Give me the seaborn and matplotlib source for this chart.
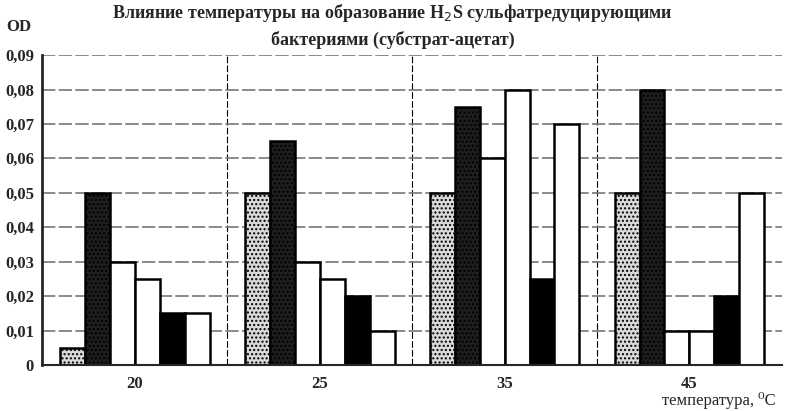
import pandas as pd
import numpy as np
import seaborn as sns
import matplotlib.pyplot as plt
from matplotlib.ticker import MultipleLocator, FuncFormatter

# температура, °C
temps = ['20', '25', '35', '45']
series = ['s1', 's2', 's3', 's4', 's5', 's6']
s1 = [0.005, 0.050, 0.050, 0.050]
s2 = [0.050, 0.065, 0.075, 0.080]
s3 = [0.030, 0.030, 0.060, 0.010]
s4 = [0.025, 0.025, 0.080, 0.010]
s5 = [0.015, 0.020, 0.025, 0.020]
s6 = [0.015, 0.010, 0.070, 0.050]

df = pd.DataFrame({'temp': temps * 6,
                   'series': np.repeat(series, 4),
                   'od': s1 + s2 + s3 + s4 + s5 + s6})

colors = ['#d9d9d9', '#1e1e1e', 'white', 'white', 'black', 'white']
hatches = ['....', '....', '', '', '', '']

sns.set_style('white')
plt.rcParams['font.family'] = ['Liberation Serif', 'DejaVu Serif']
plt.rcParams['hatch.color'] = '#888888'

fig = plt.figure(figsize=(7.85, 4.11), dpi=100)
ax = fig.add_axes([0.054, 0.112, 0.942, 0.754])
sns.barplot(data=df, x='temp', y='od', hue='series', order=temps, hue_order=series,
            palette=colors, width=0.81, edgecolor='black', linewidth=1.8,
            legend=False, ax=ax)

for i, cont in enumerate(ax.containers):
    for bar in cont:
        bar.set_hatch(hatches[i])

ax.set_xlim(-0.5, 3.5)
ax.set_ylim(0, 0.09)
ax.yaxis.set_major_locator(MultipleLocator(0.01))
ax.yaxis.set_major_formatter(FuncFormatter(
    lambda v, p: '0' if abs(v) < 1e-9 else ('%.2f' % v).replace('.', ',')))
ax.set_xticks([0.5, 1.5, 2.5], minor=True)
ax.grid(axis='y', color='#777777', linewidth=1.2, linestyle=(0, (8, 2)))
ax.grid(axis='x', which='minor', color='black', linewidth=0.8, linestyle=(0, (6, 2)))
ax.set_axisbelow(True)
ax.tick_params(axis='x', which='major', length=0, pad=8, labelsize=12)
ax.tick_params(axis='x', which='minor', length=4)
ax.tick_params(axis='y', length=4, labelsize=12, pad=2)
for lab in ax.get_xticklabels() + ax.get_yticklabels():
    lab.set_fontweight('bold')

for s in ['top', 'right']:
    ax.spines[s].set_visible(False)
ax.spines['left'].set_linewidth(2)
ax.spines['bottom'].set_linewidth(1.5)
ax.set_xlabel('')
ax.set_ylabel('')

fig.text(0.5, 0.995, 'Влияние температуры на образование H$_2$S сульфатредуцирующими\n'
         'бактериями (субстрат-ацетат)', ha='center', va='top', fontsize=13,
         fontweight='bold', linespacing=1.5)
fig.text(0.008, 0.925, 'OD', fontsize=12, fontweight='bold')
fig.text(0.988, 0.004, 'температура, \u2070C', ha='right', va='bottom', fontsize=12)

fig.savefig('out.png', dpi=100)
